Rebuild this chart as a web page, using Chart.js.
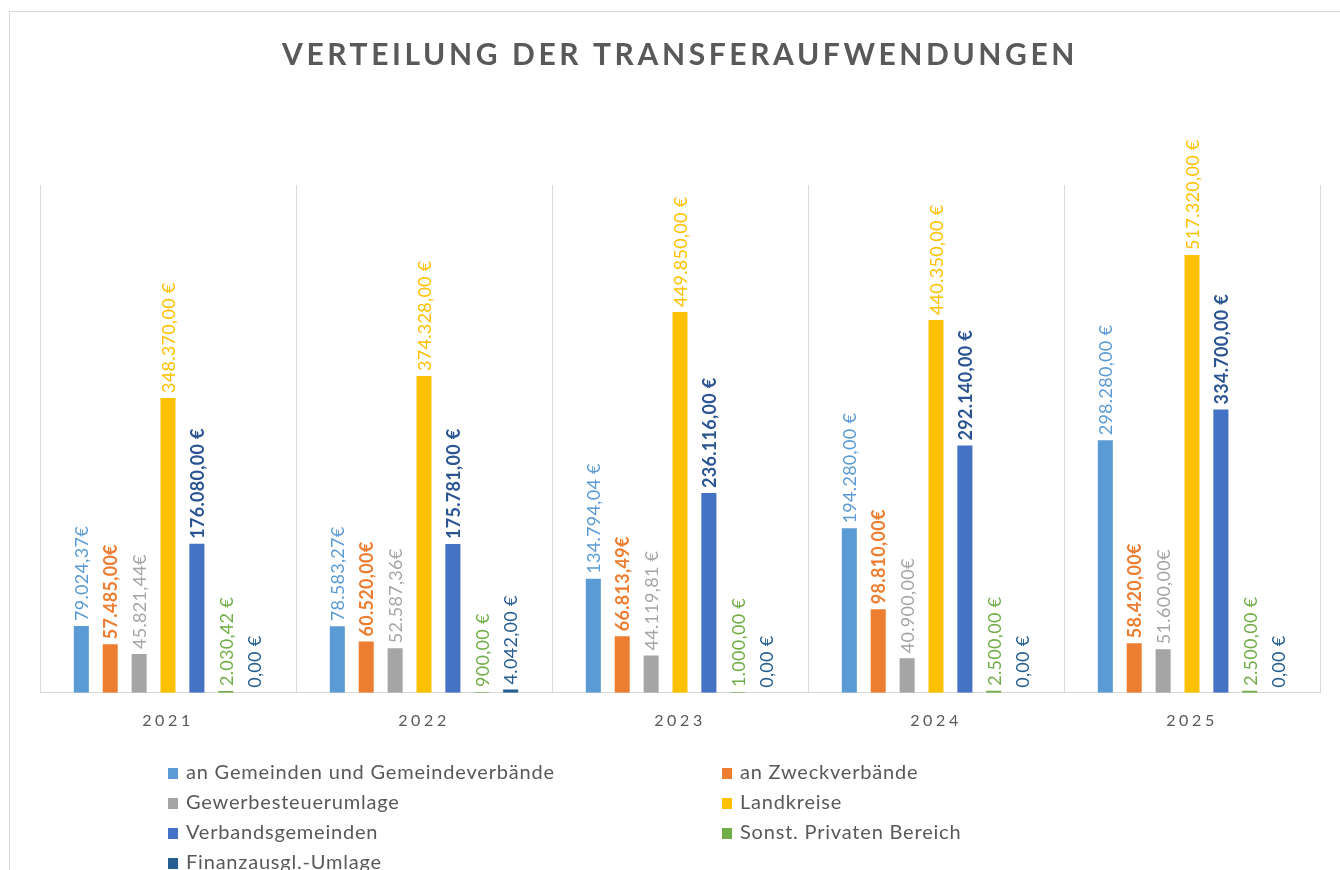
<!DOCTYPE html>
<html>
<head>
<meta charset="utf-8">
<script src="https://cdn.jsdelivr.net/npm/chart.js@4/dist/chart.umd.min.js"></script>
<style>
  html, body { margin: 0; padding: 0; background: #fff; }
  #wrap { position: relative; width: 1340px; height: 870px; overflow: hidden; }
  #frame { position: absolute; left: 9px; top: 11px; width: 1340px; height: 900px; border: 1px solid #d9d9d9; box-sizing: border-box; }
  #chart { position: absolute; left: 0; top: 0; }
  #legend { position: absolute; left: 0; top: 0; font-family: Lato, sans-serif; font-size: 20px; color: #595959; letter-spacing: 0.8px; }
  .item { position: absolute; white-space: nowrap; line-height: 22px; }
  .item i { display: inline-block; width: 10px; height: 11px; margin-right: 8px; vertical-align: 0px; }
</style>
</head>
<body>
<div id="wrap">
  <div id="frame"></div>
  <canvas id="chart" width="1340" height="870"></canvas>
  <div id="legend"></div>
</div>
<script>
const years = ['2021', '2022', '2023', '2024', '2025'];

const seriesNames = [
  'an Gemeinden und Gemeindeverbände',
  'an Zweckverbände',
  'Gewerbesteuerumlage',
  'Landkreise',
  'Verbandsgemeinden',
  'Sonst. Privaten Bereich',
  'Finanzausgl.-Umlage'
];

const gemeinden = [79024.37, 78583.27, 134794.04, 194280.00, 298280.00];
const zweckverbaende = [57485.00, 60520.00, 66813.49, 98810.00, 58420.00];
const gewerbesteuer = [45821.44, 52587.36, 44119.81, 40900.00, 51600.00];
const landkreise = [348370.00, 374328.00, 449850.00, 440350.00, 517320.00];
const verbandsgemeinden = [176080.00, 175781.00, 236116.00, 292140.00, 334700.00];
const privat = [2030.42, 900.00, 1000.00, 2500.00, 2500.00];
const finanzausgleich = [0, 4042.00, 0, 0, 0];

const barColors = ['#5B9BD5', '#ED7D31', '#A5A5A5', '#FFC000', '#4472C4', '#70AD47', '#255E91'];
const labelColors = ['#5B9BD5', '#ED7D31', '#A5A5A5', '#FFC000', '#2A5592', '#70AD47', '#255E91'];
const labelBold = [false, true, false, false, true, false, false];

// labels written as "…€" without the space (series-year)
const tightEuro = ['0-0', '1-0', '2-0', '0-1', '1-1', '2-1', '1-2', '1-3', '2-3', '1-4', '2-4'];

const allSeries = [gemeinden, zweckverbaende, gewerbesteuer, landkreise, verbandsgemeinden, privat, finanzausgleich];

function euro(v, s, i) {
  const num = v.toLocaleString('de-DE', { minimumFractionDigits: 2, maximumFractionDigits: 2 });
  return tightEuro.includes(s + '-' + i) ? num + '€' : num + ' €';
}

const spacing = {
  id: 'spacing',
  beforeDraw(chart) { chart.ctx.letterSpacing = '3.6px'; },
  beforeDatasetsDraw(chart) { chart.ctx.letterSpacing = '0px'; }
};

const barLabels = {
  id: 'barLabels',
  afterDatasetsDraw(chart) {
    const ctx = chart.ctx;
    chart.data.datasets.forEach((ds, s) => {
      const meta = chart.getDatasetMeta(s);
      meta.data.forEach((bar, i) => {
        ctx.save();
        ctx.letterSpacing = '0.3px';
        ctx.translate(bar.x, bar.y - 5);
        ctx.rotate(-Math.PI / 2);
        ctx.font = (labelBold[s] ? 'bold ' : '') + '18px Lato';
        ctx.fillStyle = labelColors[s];
        ctx.textAlign = 'left';
        ctx.textBaseline = 'middle';
        ctx.fillText(euro(ds.data[i], s, i), 0, 1);
        ctx.restore();
      });
    });
  }
};

new Chart(document.getElementById('chart'), {
  type: 'bar',
  data: {
    labels: years,
    datasets: allSeries.map((d, s) => ({
      label: seriesNames[s],
      data: d,
      backgroundColor: barColors[s],
      categoryPercentage: 0.79,
      barPercentage: 0.52
    }))
  },
  options: {
    responsive: false,
    animation: false,
    layout: { padding: { left: 40, right: 20, top: 0, bottom: 122 } },
    plugins: {
      legend: { display: false },
      tooltip: { enabled: false },
      title: {
        display: true,
        text: 'VERTEILUNG DER TRANSFERAUFWENDUNGEN',
        color: '#595959',
        font: { family: 'Lato', size: 30, weight: 'bold' },
        padding: { top: 37, bottom: 112 }
      }
    },
    scales: {
      x: {
        grid: { color: '#d9d9d9', drawTicks: false },
        border: { color: '#d9d9d9' },
        ticks: { color: '#595959', font: { family: 'Lato', size: 16 }, padding: 18 }
      },
      y: { display: false, min: 0, max: 600000 }
    }
  },
  plugins: [spacing, barLabels]
});

// legend in two columns like the original
const legend = document.getElementById('legend');
seriesNames.forEach((name, s) => {
  const el = document.createElement('div');
  el.className = 'item';
  el.style.left = (s % 2 === 0 ? 168 : 722) + 'px';
  el.style.top = (760 + Math.floor(s / 2) * 30) + 'px';
  el.innerHTML = '<i style="background:' + barColors[s] + '"></i>' + name;
  legend.appendChild(el);
});
</script>
</body>
</html>
